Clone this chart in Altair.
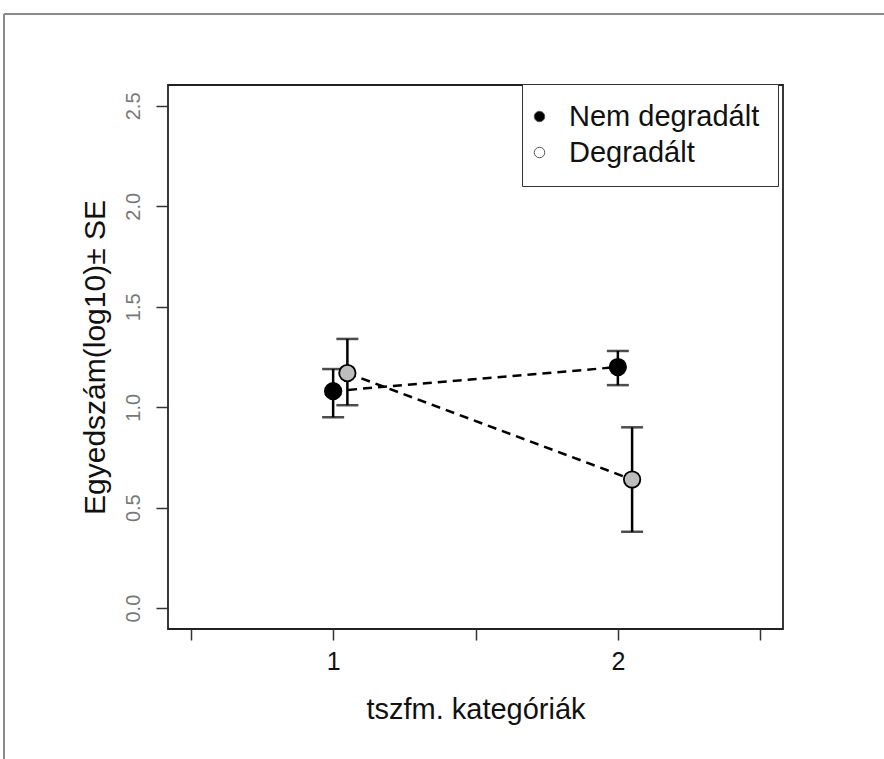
import altair as alt
import pandas as pd

series = ["Nem degradált", "Degradált"]
x_nem = [1.0, 2.0]
y_nem = [1.08, 1.20]
lo_nem = [0.95, 1.11]
hi_nem = [1.19, 1.28]
x_deg = [1.05, 2.05]
y_deg = [1.17, 0.64]
lo_deg = [1.01, 0.38]
hi_deg = [1.34, 0.90]

x_ticks = [0.5, 1.0, 1.5, 2.0, 2.5]
y_ticks = [0.0, 0.5, 1.0, 1.5, 2.0, 2.5]

rows = []
for i in range(2):
    rows.append({"series": series[0], "x": x_nem[i], "y": y_nem[i], "lo": lo_nem[i], "hi": hi_nem[i]})
for i in range(2):
    rows.append({"series": series[1], "x": x_deg[i], "y": y_deg[i], "lo": lo_deg[i], "hi": hi_deg[i]})
df = pd.DataFrame(rows)

FONT = "Liberation Sans"

xs = alt.Scale(domain=[0.42, 2.58], nice=False, zero=False)
ys = alt.Scale(domain=[-0.104, 2.604], nice=False, zero=False)

x_axis = alt.Axis(
    values=x_ticks, title="tszfm. kategóriák",
    labelExpr="datum.value % 1 == 0 ? format(datum.value, 'd') : ''",
    grid=False, domain=False, tickSize=11, tickWidth=1.5, tickColor="#333",
    labelFont=FONT, labelFontSize=25, labelColor="#111", labelPadding=9,
    titleFont=FONT, titleFontSize=29, titleFontWeight="normal", titleColor="#111",
    titlePadding=21)
y_axis = alt.Axis(
    values=y_ticks, format=".1f", title="Egyedszám(log10)± SE",
    grid=False, domain=False, tickSize=12, tickWidth=1.5, tickColor="#333",
    labelAngle=270, labelAlign="center", labelBaseline="bottom",
    labelFont=FONT, labelFontSize=20, labelColor="#777", labelPadding=13,
    titleFont=FONT, titleFontSize=30, titleFontWeight="normal", titleColor="#111",
    titlePadding=13)

X = alt.X("x:Q", scale=xs, axis=x_axis)
Y = alt.Y("y:Q", scale=ys, axis=y_axis)
YLO = alt.Y("lo:Q", scale=ys, axis=y_axis)
YHI = alt.Y("hi:Q", scale=ys, axis=y_axis)

base = alt.Chart(df)

lines = base.mark_line(color="black", strokeDash=[9, 6], strokeWidth=2.5).encode(
    x=X, y=Y, detail="series:N")

bars = base.mark_rule(color="black", strokeWidth=2.5).encode(x=X, y=YLO, y2="hi:Q")

cap_lo = base.mark_tick(color="black", orient="horizontal", size=22, thickness=2.5).encode(x=X, y=YLO)
cap_hi = base.mark_tick(color="black", orient="horizontal", size=22, thickness=2.5).encode(x=X, y=YHI)

legend_pts = base.mark_point(filled=True, opacity=1, size=80).encode(
    x=X, y=Y,
    fill=alt.Fill("series:N", scale=alt.Scale(domain=series, range=["black", "white"]),
                  legend=alt.Legend(title=None, orient="none", legendX=354, legendY=-1,
                                    padding=18, labelOffset=15, rowPadding=6,
                                    symbolOffset=-15,
                                    strokeColor="#333", fillColor="white",
                                    labelFont=FONT, labelFontSize=29, labelColor="#111",
                                    symbolType="circle", symbolSize=110,
                                    symbolStrokeColor="#555", symbolStrokeWidth=1,
                                    labelLimit=400)),
)

points = base.mark_point(filled=True, opacity=1, size=270, stroke="black", strokeWidth=1.8).encode(
    x=X, y=Y,
    fill=alt.Fill("series:N", scale=alt.Scale(domain=series, range=["black", "#bdbdbd"]), legend=None),
)

frame_top = alt.Chart(df).mark_rule(color="#8a8a8a", strokeWidth=2).encode(
    x=alt.value(-164), x2=alt.value(716), y=alt.value(-71))
frame_left = alt.Chart(df).mark_rule(color="#8a8a8a", strokeWidth=2).encode(
    x=alt.value(-164), y=alt.value(-71), y2=alt.value(674))

chart = alt.layer(lines, bars, cap_lo, cap_hi, legend_pts, points, frame_top, frame_left).resolve_scale(
    fill="independent"
).properties(
    width=615, height=544,
    autosize=alt.AutoSizeParams(type="none"),
    padding={"left": 168, "top": 85, "right": 101, "bottom": 130},
    background="white",
).configure_view(stroke="#222", strokeWidth=1.8)

chart.save("out.html", embed_options={"renderer": "svg", "actions": False})
